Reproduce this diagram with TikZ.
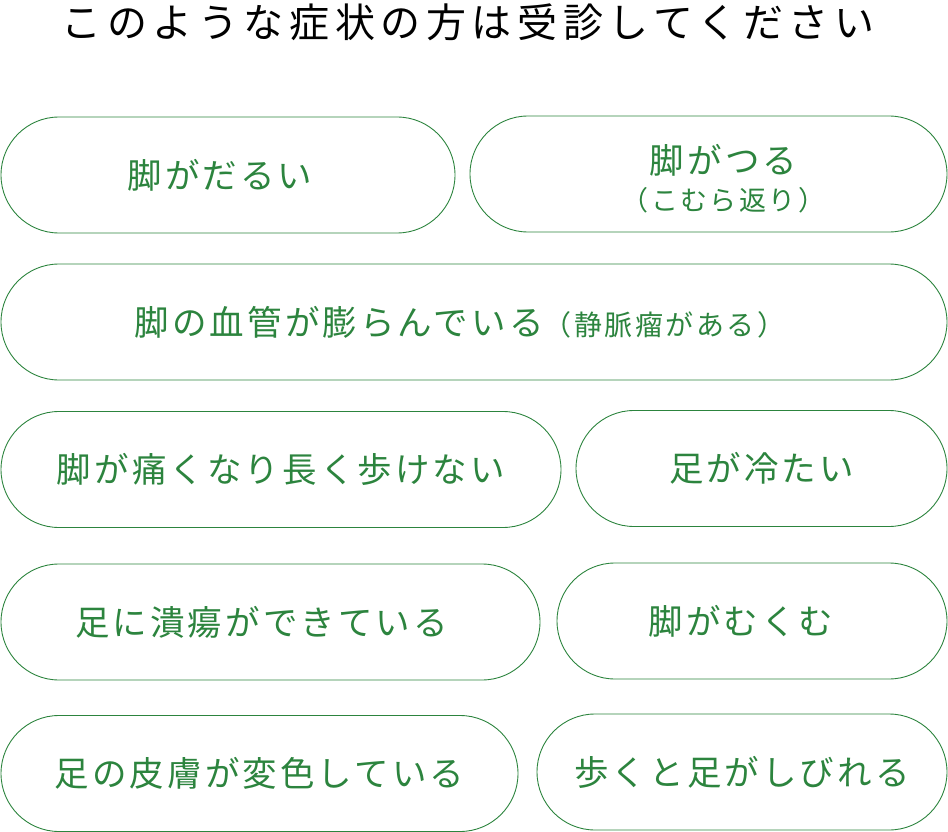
\documentclass[tikz,border=0pt]{standalone}
\usepackage{fontspec}
\usepackage{xcolor}
\usepackage{tikz}
\usetikzlibrary{positioning}
\newfontfamily\jpfont[LetterSpace=9]{Noto Sans CJK JP}
\newfontfamily\titlefont[LetterSpace=14]{Noto Sans CJK JP}
\definecolor{symgreen}{RGB}{44,132,62}

\begin{document}
\begin{tikzpicture}[x=1pt, y=-1pt,
  pill/.style={draw=symgreen, line width=0.9pt, rounded corners=58pt,
    minimum height=116pt, inner sep=0pt},
  label/.style={text=symgreen, align=center, inner sep=0pt,
    font=\jpfont\fontsize{34.5}{38}\selectfont}]
  \useasboundingbox (0,0) rectangle (948,832);

  % Title
  \node[font=\titlefont\fontsize{40}{44}\selectfont] (title) at (468,22) {このような症状の方は受診してください};

  % Row 1
  \node[pill, minimum width=454pt] (dull) at (228,175) {};
  \node[label] (dullText) at ([xshift=-8pt]dull.center) {脚がだるい};
  \node[pill, minimum width=477pt] (cramp) at (708.5,174) {};
  \node[label] (crampText) at ([xshift=15pt,yshift=-5pt]cramp.center)
    {脚がつる\\[-1pt]{\fontsize{27}{30}\selectfont（こむら返り）}};

  % Row 2
  \node[pill, minimum width=946pt] (veins) at (474,322) {};
  \node[label] (veinsText) at ([xshift=-14pt]veins.center)
    {脚の血管が膨らんでいる{\fontsize{28}{30}\selectfont（静脈瘤がある）}};

  % Row 3
  \node[pill, minimum width=560pt] (pain) at (281,469.5) {};
  \node[label] (painText) at (pain.center) {脚が痛くなり長く歩けない};
  \node[pill, minimum width=371pt] (cold) at (761.5,468.5) {};
  \node[label] (coldText) at (cold.center) {足が冷たい};

  % Row 4
  \node[pill, minimum width=539pt] (ulcer) at (270.5,622) {};
  \node[label] (ulcerText) at ([xshift=-9pt]ulcer.center) {足に潰瘍ができている};
  \node[pill, minimum width=390pt] (swell) at (752,621) {};
  \node[label] (swellText) at ([xshift=-11pt]swell.center) {脚がむくむ};

  % Row 5
  \node[pill, minimum width=517pt] (skin) at (259.5,773.5) {};
  \node[label] (skinText) at (skin.center) {足の皮膚が変色している};
  \node[pill, minimum width=410pt] (numb) at (742,772) {};
  \node[label] (numbText) at (numb.center) {歩くと足がしびれる};
\end{tikzpicture}
\end{document}
